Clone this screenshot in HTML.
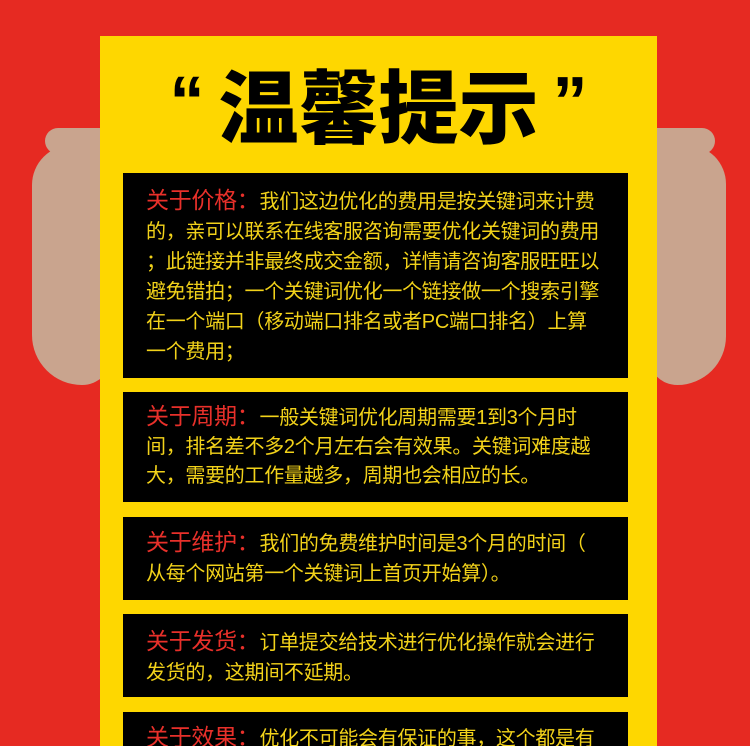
<!DOCTYPE html>
<html><head><meta charset="utf-8"><style>
html,body{margin:0;width:750px;height:746px;overflow:hidden}
body{background:#e62a22;position:relative;font-family:"Liberation Sans","Noto Sans CJK SC",sans-serif}
.poster{position:absolute;left:100px;top:36px;width:557px;height:720px;background:#fed700}
.title{position:absolute;left:100px;top:46px;width:557px;text-align:center;font-size:80px;font-weight:900;color:#000;line-height:110px;white-space:nowrap}
.title span{font-size:70px;vertical-align:12px;margin:0 14px}
.box{position:absolute;left:123px;width:505px;background:#000;box-sizing:border-box;padding:12px 0 0 23px;color:#f2d21a;font-size:20px;line-height:30px;white-space:nowrap;letter-spacing:-0.3px}
.box b{color:#e8302a;font-size:23px;font-weight:normal}
.hand{position:absolute;background:#c9a48e;border-radius:40px}
</style></head><body>
<div class="hand" style="left:32px;top:145px;width:80px;height:240px;border-radius:40px 10px 30px 50px"></div>
<div class="hand" style="left:45px;top:128px;width:90px;height:26px;border-radius:13px"></div>
<div class="hand" style="left:648px;top:145px;width:78px;height:240px;border-radius:10px 40px 50px 30px"></div>
<div class="hand" style="left:620px;top:128px;width:95px;height:26px;border-radius:13px"></div>
<div class="poster"></div>
<div class="title"><span>“</span>温馨提示<span>”</span></div>
<div class="box" style="top:173px;height:205px"><b>关于价格：</b>我们这边优化的费用是按关键词来计费<br>的，亲可以联系在线客服咨询需要优化关键词的费用<br>；此链接并非最终成交金额，详情请咨询客服旺旺以<br>避免错拍；一个关键词优化一个链接做一个搜索引擎<br>在一个端口（移动端口排名或者PC端口排名）上算<br>一个费用；</div>
<div class="box" style="top:392px;height:110px;padding-top:10px;line-height:29px"><b>关于周期：</b>一般关键词优化周期需要1到3个月时<br>间，排名差不多2个月左右会有效果。关键词难度越<br>大，需要的工作量越多，周期也会相应的长。</div>
<div class="box" style="top:517px;height:83px;padding-top:10px"><b>关于维护：</b>我们的免费维护时间是3个月的时间（<br>从每个网站第一个关键词上首页开始算）。</div>
<div class="box" style="top:614px;height:83px;padding-top:12px"><b>关于发货：</b>订单提交给技术进行优化操作就会进行<br>发货的，这期间不延期。</div>
<div class="box" style="top:712px;height:60px;padding-top:10px"><b>关于效果：</b>优化不可能会有保证的事，这个都是有</div>
</body></html>
